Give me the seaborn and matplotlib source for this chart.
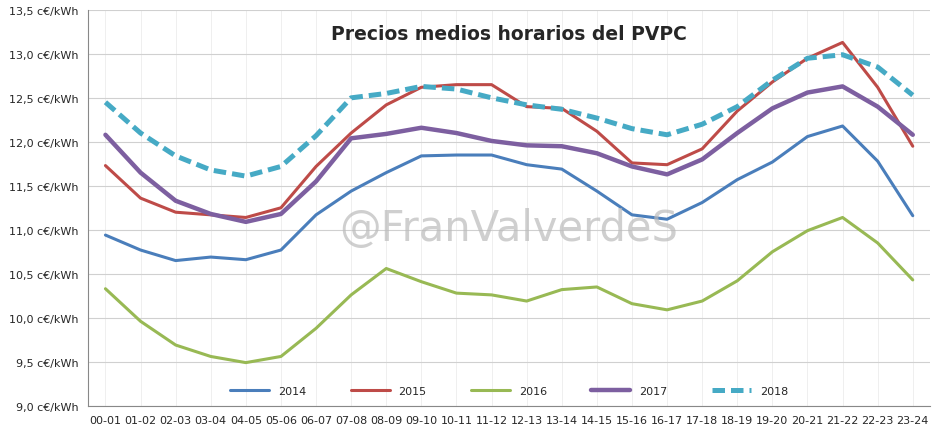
import matplotlib
matplotlib.use("Agg")
import matplotlib.pyplot as plt
import pandas as pd
import seaborn as sns

hours = [f"{h:02d}-{h + 1:02d}" for h in range(24)]
p2014 = [10.94, 10.77, 10.65, 10.69, 10.66, 10.77, 11.17, 11.44, 11.65, 11.84, 11.85, 11.85,
         11.74, 11.69, 11.44, 11.17, 11.12, 11.31, 11.57, 11.77, 12.06, 12.18, 11.78, 11.16]
p2015 = [11.73, 11.36, 11.20, 11.17, 11.14, 11.25, 11.72, 12.10, 12.42, 12.62, 12.65, 12.65,
         12.40, 12.38, 12.12, 11.76, 11.74, 11.92, 12.35, 12.68, 12.95, 13.13, 12.62, 11.95]
p2016 = [10.33, 9.96, 9.69, 9.56, 9.49, 9.56, 9.88, 10.26, 10.56, 10.41, 10.28, 10.26,
         10.19, 10.32, 10.35, 10.16, 10.09, 10.19, 10.42, 10.75, 10.99, 11.14, 10.85, 10.43]
p2017 = [12.08, 11.65, 11.33, 11.18, 11.09, 11.18, 11.55, 12.04, 12.09, 12.16, 12.10, 12.01,
         11.96, 11.95, 11.87, 11.72, 11.63, 11.80, 12.10, 12.38, 12.56, 12.63, 12.40, 12.08]
p2018 = [12.45, 12.10, 11.84, 11.68, 11.61, 11.72, 12.07, 12.50, 12.55, 12.63, 12.60, 12.50,
         12.42, 12.37, 12.27, 12.15, 12.08, 12.20, 12.40, 12.70, 12.95, 12.99, 12.85, 12.53]

series = {"2014": p2014, "2015": p2015, "2016": p2016, "2017": p2017, "2018": p2018}
colors = {"2014": "#4a7ebb", "2015": "#be4b48", "2016": "#98b954", "2017": "#7d5fa0", "2018": "#46aac5"}
widths = {"2014": 2.2, "2015": 2.2, "2016": 2.2, "2017": 3.2, "2018": 3.6}

df = pd.DataFrame([(h, i, y, v) for y, vals in series.items() for i, (h, v) in enumerate(zip(hours, vals))],
                  columns=["hour", "idx", "year", "price"])

sns.set_style("white")
fig, ax = plt.subplots(figsize=(9.35, 4.35), dpi=100)
fig.subplots_adjust(left=0.094, right=0.995, top=0.975, bottom=0.065)

for y in series:
    d = df[df.year == y]
    sns.lineplot(data=d, x="idx", y="price", ax=ax, color=colors[y], lw=widths[y],
                 linestyle=(0, (2.5, 1.2)) if y == "2018" else "-", label=y)

ax.set_xlim(-0.5, 23.5)
ax.set_ylim(9.0, 13.5)
ax.set_xticks(range(24))
ax.set_xticklabels(hours, fontsize=8)
yt = [9.0 + 0.5 * i for i in range(10)]
ax.set_yticks(yt)
ax.set_yticklabels([f"{v:.1f} c€/kWh".replace(".", ",") for v in yt], fontsize=8)
ax.grid(axis="y", color="#d0d0d0", lw=0.8)
ax.grid(axis="x", color="#ececec", lw=0.6)
ax.set_xlabel("")
ax.set_ylabel("")
for s in ["top", "right"]:
    ax.spines[s].set_visible(False)
for s in ["left", "bottom"]:
    ax.spines[s].set_color("#888888")

ax.text(0.5, 0.965, "Precios medios horarios del PVPC", transform=ax.transAxes,
        ha="center", va="top", fontsize=13.5, fontweight="semibold")
ax.text(0.5, 0.45, "@FranValverdeS", transform=ax.transAxes, ha="center", va="center",
        fontsize=30, color="#bbbbbb", alpha=0.7)

ax.legend(loc="lower center", ncol=5, frameon=False, fontsize=8, bbox_to_anchor=(0.5, 0.0),
          handlelength=3.5, columnspacing=4)
fig.savefig("out.png", dpi=100)
